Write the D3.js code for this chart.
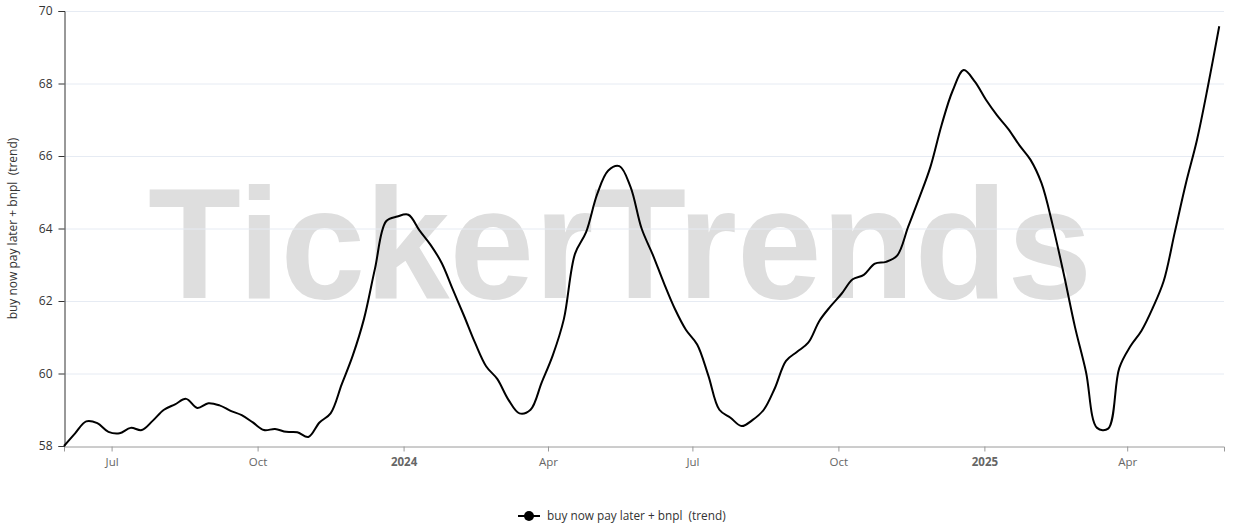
<!DOCTYPE html>
<html>
<head>
<meta charset="utf-8">
<script src="https://cdn.jsdelivr.net/npm/d3@7"></script>
<style>
  html, body { margin: 0; padding: 0; background: #fff; }
  svg { display: block; }
  text { font-family: "Open Sans", "Noto Sans", sans-serif; }
</style>
</head>
<body>
<svg id="chart" width="1248" height="529"></svg>
<script>
// ---- data ----
const seriesName = "buy now pay later + bnpl  (trend)";
const startDate = "2023-06-01";   // weekly observations
const endDate = "2025-06-01";     // x-axis extent
const stepDays = 7;
const values = [
  58.0, 58.35, 58.68, 58.63, 58.39, 58.35, 58.5, 58.44, 58.7, 59.0,
  59.15, 59.3, 59.05, 59.18, 59.12, 58.97, 58.85, 58.65, 58.44, 58.47,
  58.39, 58.38, 58.25, 58.65, 58.9, 59.7, 60.5, 61.5, 62.9, 64.2,
  64.33, 64.38, 63.95, 63.55, 63.05, 62.32, 61.6, 60.85, 60.2, 59.85,
  59.28, 58.9, 59.0, 59.75, 60.5, 61.5, 63.3, 63.9, 64.95, 65.6,
  65.72, 65.15, 64.0, 63.28, 62.5, 61.78, 61.2, 60.8, 59.95, 59.0,
  58.78, 58.55, 58.72, 59.0, 59.6, 60.35, 60.6, 60.85, 61.45, 61.85,
  62.2, 62.6, 62.72, 63.03, 63.08, 63.25, 64.05, 64.85, 65.7, 66.85,
  67.8, 68.37, 68.05, 67.55, 67.12, 66.75, 66.3, 65.9, 65.25, 64.1,
  62.75, 61.3, 60.05, 58.5, 58.48, 60.15, 60.75, 61.18, 61.8, 62.55,
  63.9, 65.25, 66.45, 67.95, 69.58
];
const yTicks = [58, 60, 62, 64, 66, 68, 70];
const xTickDates = ["2023-07-01", "2023-10-01", "2024-01-01", "2024-04-01",
                    "2024-07-01", "2024-10-01", "2025-01-01", "2025-04-01"];
const xTickLabels = ["Jul", "Oct", "2024", "Apr", "Jul", "Oct", "2025", "Apr"];
const watermark = "TickerTrends";

// ---- build ----
const parse = d3.utcParse("%Y-%m-%d");
const t0 = parse(startDate);
const data = values.map((v, i) => ({ date: d3.utcDay.offset(t0, i * stepDays), value: v }));

const margin = { left: 64, right: 24, top: 11, bottom: 83 };
const W = 1248, H = 529;
const svg = d3.select("#chart");

const x = d3.scaleUtc()
  .domain([t0, parse(endDate)])
  .range([margin.left, W - margin.right]);
const y = d3.scaleLinear()
  .domain([58, 70])
  .range([H - margin.bottom, margin.top]);

// watermark
svg.append("text")
  .attr("x", W / 2 - 4)
  .attr("y", 298)
  .attr("text-anchor", "middle")
  .attr("textLength", 944)
  .attr("lengthAdjust", "spacingAndGlyphs")
  .style("font-family", "'Liberation Sans', Arial, sans-serif")
  .style("font-weight", "bold")
  .style("font-size", "158px")
  .attr("fill", "#dedede")
  .text(watermark);

// grid
svg.append("g")
  .selectAll("line")
  .data(yTicks.filter(t => t !== 58))
  .join("line")
  .attr("x1", margin.left)
  .attr("x2", W - margin.right)
  .attr("y1", d => y(d) + 0.5)
  .attr("y2", d => y(d) + 0.5)
  .attr("stroke", "#e6ebf3")
  .attr("stroke-width", 1);

// y axis
const yAxis = svg.append("g")
  .attr("transform", `translate(${margin.left + 0.5},0)`)
  .call(d3.axisLeft(y).tickValues(yTicks).tickSize(6).tickPadding(6).tickFormat(d3.format("d")));
yAxis.select(".domain").attr("stroke", "#333").attr("stroke-width", 1);
yAxis.selectAll(".tick line").attr("stroke", "#333");
yAxis.selectAll(".tick text")
  .attr("fill", "#333")
  .style("font-size", "12px")
  .style("font-family", "'Open Sans', sans-serif");

// x axis
const xAxis = svg.append("g")
  .attr("transform", `translate(0,${H - margin.bottom + 0.5})`)
  .call(d3.axisBottom(x)
    .tickValues(xTickDates.map(parse))
    .tickSize(5)
    .tickPadding(6)
    .tickFormat((d, i) => xTickLabels[i]));
xAxis.select(".domain").attr("stroke", "#9a9a9a").attr("stroke-width", 1);
xAxis.selectAll(".tick line").attr("stroke", "#9a9a9a");
xAxis.selectAll(".tick text")
  .attr("fill", "#666")
  .style("font-size", "11.5px")
  .style("font-family", "'Open Sans', sans-serif")
  .style("font-weight", (d, i) => /^\d{4}$/.test(xTickLabels[i]) ? "bold" : "normal");

// y title
svg.append("text")
  .attr("transform", `translate(17,${(margin.top + H - margin.bottom) / 2}) rotate(-90)`)
  .attr("text-anchor", "middle")
  .attr("fill", "#333")
  .style("font-size", "12px")
  .style("white-space", "pre")
  .text(seriesName);

// line
const line = d3.line()
  .x(d => x(d.date))
  .y(d => y(d.value))
  .curve(d3.curveCatmullRom.alpha(0.5));
svg.append("path")
  .datum(data)
  .attr("fill", "none")
  .attr("stroke", "#000")
  .attr("stroke-width", 2)
  .attr("stroke-linejoin", "round")
  .attr("d", line);

// legend
const lg = svg.append("g").attr("transform", "translate(518,516)");
lg.append("line").attr("x1", 0).attr("x2", 22).attr("y1", 0).attr("y2", 0)
  .attr("stroke", "#000").attr("stroke-width", 2);
lg.append("circle").attr("cx", 11).attr("cy", 0).attr("r", 5).attr("fill", "#000");
lg.append("text")
  .attr("x", 29).attr("y", 4)
  .attr("fill", "#333")
  .style("font-size", "11.8px")
  .style("white-space", "pre")
  .text(seriesName);
</script>
</body>
</html>
